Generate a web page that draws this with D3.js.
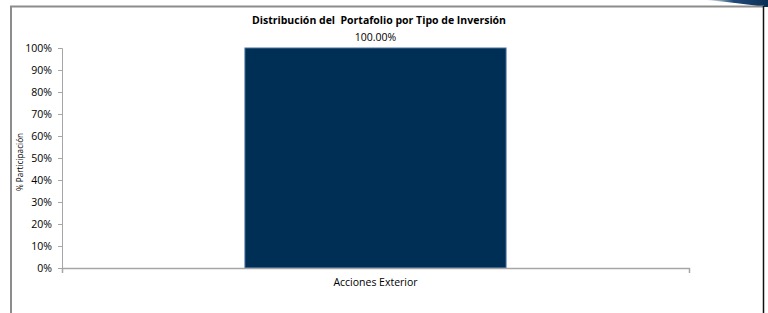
<!DOCTYPE html>
<html>
<head>
<meta charset="utf-8">
<script src="https://cdn.jsdelivr.net/npm/d3@7"></script>
<style>
  body { margin: 0; background: #fff; }
  svg { display: block; font-family: "Open Sans", "Liberation Sans", sans-serif; }
</style>
</head>
<body>
<div id="chart"></div>
<script>
// data
const categories = ["Acciones Exterior"];
const shares = [1.0];
const yTicks = [0, 0.1, 0.2, 0.3, 0.4, 0.5, 0.6, 0.7, 0.8, 0.9, 1.0];
const title = "Distribución del  Portafolio por Tipo de Inversión";
const yTitle = "% Participación";

const width = 768, height = 313;
const margin = { top: 48, right: 79, bottom: 45, left: 62 };

const svg = d3.select("#chart")
  .append("svg")
  .attr("width", width)
  .attr("height", height);

// gradient for the small swoosh in the corner
const defs = svg.append("defs");
const grad = defs.append("linearGradient").attr("id", "swoosh")
  .attr("x1", "0%").attr("x2", "100%");
grad.append("stop").attr("offset", "0%").attr("stop-color", "#ffffff");
grad.append("stop").attr("offset", "45%").attr("stop-color", "#1f4a78");
grad.append("stop").attr("offset", "100%").attr("stop-color", "#0b2f56");

svg.append("path")
  .attr("d", "M705,0 L768,0 L768,7 L764,7 Q740,3 705,0 Z")
  .attr("fill", "url(#swoosh)");

// chart frame
svg.append("line").attr("x1", 10).attr("x2", 764).attr("y1", 6.5).attr("y2", 6.5)
  .attr("stroke", "#8c8c8c").attr("stroke-width", 2);
svg.append("line").attr("x1", 11).attr("x2", 11).attr("y1", 6).attr("y2", height)
  .attr("stroke", "#8c8c8c").attr("stroke-width", 2);
svg.append("line").attr("x1", 763.5).attr("x2", 763.5).attr("y1", 6).attr("y2", height)
  .attr("stroke", "#111").attr("stroke-width", 1.5);

const g = svg.append("g")
  .attr("transform", "translate(" + margin.left + "," + margin.top + ")");
const innerW = width - margin.left - margin.right;
const innerH = 268 - margin.top;

const x = d3.scaleBand()
  .domain(categories)
  .range([0, innerW])
  .padding(0.412);

const y = d3.scaleLinear()
  .domain([0, 1])
  .range([innerH, 0]);

// y axis
const yAxis = g.append("g")
  .call(d3.axisLeft(y).tickValues(yTicks).tickSize(4).tickPadding(6)
    .tickFormat(d3.format(".0%")));
yAxis.select(".domain").attr("stroke", "#a6a6a6");
yAxis.selectAll(".tick line").attr("stroke", "#a6a6a6");
yAxis.selectAll("text").attr("fill", "#000").style("font-size", "10.5px")
  .style("font-family", "'Open Sans', sans-serif");

// bars
g.selectAll(".bar")
  .data(categories)
  .enter().append("rect")
  .attr("class", "bar")
  .attr("x", d => x(d))
  .attr("width", x.bandwidth())
  .attr("y", (d, i) => y(shares[i]))
  .attr("height", (d, i) => innerH - y(shares[i]))
  .attr("fill", "#002f55")
  .attr("stroke", "#4a6fa0")
  .attr("stroke-width", 1);

// x axis
const xAxis = g.append("g")
  .attr("transform", "translate(0," + innerH + ")")
  .call(d3.axisBottom(x).tickSize(0).tickPadding(11).tickSizeOuter(5));
xAxis.select(".domain").attr("stroke", "#a6a6a6").attr("stroke-width", 1.5);
xAxis.selectAll("text").attr("fill", "#000").style("font-size", "10.5px")
  .style("font-family", "'Open Sans', sans-serif");

// value labels
g.selectAll(".val")
  .data(categories)
  .enter().append("text")
  .attr("x", d => x(d) + x.bandwidth() / 2)
  .attr("y", (d, i) => y(shares[i]) - 7)
  .attr("text-anchor", "middle")
  .style("font-size", "10.5px")
  .text((d, i) => d3.format(".2%")(shares[i]));

// title (keeps the double space of the original)
svg.append("text")
  .attr("x", 379)
  .attr("y", 24)
  .attr("text-anchor", "middle")
  .style("font-size", "10.5px")
  .style("font-weight", "bold")
  .style("white-space", "pre")
  .text(title);

// y axis title
svg.append("text")
  .attr("transform", "translate(23," + 162 + ") rotate(-90)")
  .attr("text-anchor", "middle")
  .style("font-size", "8.2px")
  .text(yTitle);
</script>
</body>
</html>
